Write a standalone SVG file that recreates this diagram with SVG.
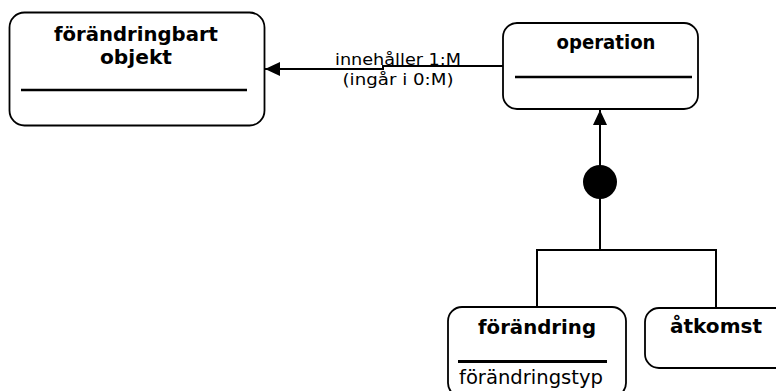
<svg xmlns="http://www.w3.org/2000/svg" width="776" height="391" viewBox="0 0 776 391">
<defs>
<style>
.box{fill:#fff;stroke:#000;stroke-width:1.8}
.sep{stroke:#000;stroke-width:2.6}
.title{font-family:"DejaVu Sans",Verdana,sans-serif;font-weight:bold;font-size:19.5px;text-anchor:middle;fill:#000}
.attr{font-family:"DejaVu Sans",Verdana,sans-serif;font-size:19px;fill:#000}
.lbl{font-family:"DejaVu Sans",Verdana,sans-serif;font-size:16.5px;text-anchor:middle;fill:#000}
.conn{fill:none;stroke:#000;stroke-width:2}
</style>
<marker id="tri" viewBox="0 0 15 14" refX="15" refY="7" markerWidth="15" markerHeight="14" markerUnits="userSpaceOnUse" orient="auto">
<path d="M0,0 L15,7 L0,14 Z" fill="#000"/>
</marker>
</defs>
<rect width="776" height="391" fill="#fff"/>
<g id="connectors">
<path class="conn" d="M503,66 H383 V69 H265" marker-end="url(#tri)"/>
<text class="lbl" x="398" y="65" textLength="126" lengthAdjust="spacingAndGlyphs">innehåller 1:M</text>
<text class="lbl" x="398" y="85" textLength="111" lengthAdjust="spacingAndGlyphs">(ingår i 0:M)</text>
<path class="conn" d="M600,250 V110" marker-end="url(#tri)"/>
<circle cx="600" cy="182" r="17" fill="#000"/>
<path class="conn" d="M537,307 V250 H716 V308"/>
</g>
<g id="forandringbart-objekt">
<rect class="box" x="9.5" y="12.5" width="255" height="113" rx="15"/>
<text class="title" x="136" y="41" textLength="164" lengthAdjust="spacingAndGlyphs">förändringbart</text>
<text class="title" x="136" y="64" textLength="72" lengthAdjust="spacingAndGlyphs">objekt</text>
<line class="sep" x1="21" y1="90" x2="247" y2="90"/>
</g>
<g id="operation">
<rect class="box" x="503" y="23" width="195" height="86" rx="14"/>
<text class="title" x="606" y="49" textLength="99" lengthAdjust="spacingAndGlyphs">operation</text>
<line class="sep" x1="515" y1="77" x2="692" y2="77"/>
</g>
<g id="forandring">
<rect class="box" x="448" y="307" width="178" height="90" rx="14"/>
<text class="title" x="537" y="334" textLength="118" lengthAdjust="spacingAndGlyphs">förändring</text>
<line class="sep" x1="458" y1="361.5" x2="607" y2="361.5" style="stroke-width:3"/>
<text class="attr" x="459" y="384" textLength="144" lengthAdjust="spacingAndGlyphs">förändringstyp</text>
</g>
<g id="atkomst">
<rect class="box" x="645" y="308" width="150" height="60" rx="14"/>
<text class="title" x="716" y="333" textLength="92" lengthAdjust="spacingAndGlyphs">åtkomst</text>
</g>
</svg>
